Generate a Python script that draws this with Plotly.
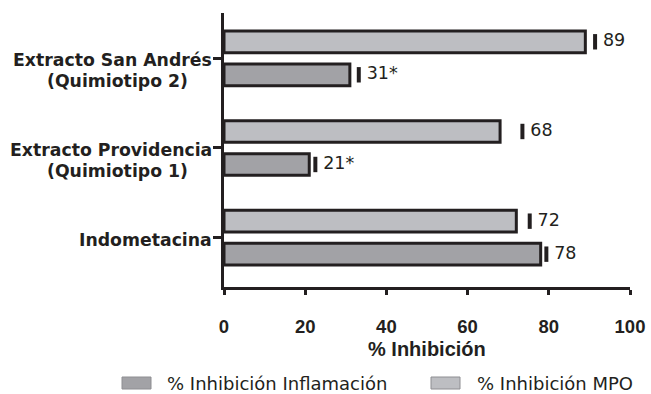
import numpy as np
import plotly.graph_objects as go

# ---- data (bottom to top) ----
category_lines = [
    ["Indometacina"],
    ["Extracto Providencia", "(Quimiotipo 1)"],
    ["Extracto San Andrés", "(Quimiotipo 2)"],
]
series_names = ["% Inhibición Inflamación", "% Inhibición MPO"]
inflamacion = [78, 21, 31]
inflamacion_err = [1.4, 1.5, 2.2]
inflamacion_labels = ["78", "21*", "31*"]
mpo = [72, 68, 89]
mpo_err = [3.3, 5.5, 2.4]
mpo_labels = ["72", "68", "89"]
x_ticks = [0, 20, 40, 60, 80, 100]
x_title = "% Inhibición"

# ---- style ----
INK = "#231f20"
C_INF = "#a2a2a6"
C_MPO = "#bdbec2"
SANS = "DejaVu Sans"
ARIAL = "Liberation Sans"
OFF = 0.184
BW = 0.242

idx = np.arange(len(category_lines))
fig = go.Figure()

for vals, errs, labels, color, sign, name in [
    (inflamacion, inflamacion_err, inflamacion_labels, C_INF, -1, series_names[0]),
    (mpo, mpo_err, mpo_labels, C_MPO, 1, series_names[1]),
]:
    ypos = idx + sign * OFF
    fig.add_trace(go.Bar(
        x=vals, y=ypos, orientation="h", width=BW, name=name,
        marker=dict(color=color, line=dict(color=INK, width=3)),
        showlegend=False,
    ))
    fig.add_trace(go.Scatter(
        x=np.array(vals) + np.array(errs), y=ypos, mode="markers+text",
        marker=dict(symbol="line-ns", size=11, line=dict(color=INK, width=4)),
        text=labels, textposition="middle right",
        textfont=dict(family=SANS, size=17.5, color=INK),
        showlegend=False, hoverinfo="skip",
    ))

annotations = []
# category labels
for i, lines in enumerate(category_lines):
    annotations.append(dict(
        text=lines[0], x=0, xref="paper", y=i, yref="y",
        xanchor="right", yanchor="middle", xshift=-10, yshift=-2,
        showarrow=False, font=dict(family=SANS, size=17.3, color=INK, weight="bold"),
    ))
    for k, ln in enumerate(lines[1:], start=1):
        annotations.append(dict(
            text=ln, x=0, xref="paper", y=i, yref="y",
            xanchor="center", yanchor="middle", xshift=-107, yshift=-2 - 21 * k,
            showarrow=False, font=dict(family=SANS, size=17.3, color=INK, weight="bold"),
        ))
# axis title
annotations.append(dict(
    text=x_title, x=0.5, xref="paper", y=0, yref="paper",
    xanchor="center", yanchor="middle", yshift=-62, showarrow=False,
    font=dict(family=ARIAL, size=20, color=INK, weight="bold"),
))
# legend
shapes = []
legend_items = [(series_names[0], C_INF, -102, -59), (series_names[1], C_MPO, 207, 251)]
for name, color, bx, tx in legend_items:
    shapes.append(dict(
        type="rect", xref="paper", yref="paper", xsizemode="pixel", ysizemode="pixel",
        xanchor=0, yanchor=0, x0=bx, x1=bx + 29, y0=-90, y1=-102,
        fillcolor=color, line=dict(color="#8e8e92", width=1),
    ))
    annotations.append(dict(
        text=name, x=0, xref="paper", y=0, yref="paper",
        xanchor="left", yanchor="middle", xshift=tx, yshift=-96, showarrow=False,
        font=dict(family=SANS, size=18, color=INK),
    ))

fig.update_layout(
    width=651, height=394, autosize=False,
    margin=dict(l=224, r=21, t=13, b=107, autoexpand=False),
    paper_bgcolor="white", plot_bgcolor="white",
    barmode="overlay",
    annotations=annotations, shapes=shapes,
    xaxis=dict(
        range=[0, 100], tickvals=x_ticks, ticks="outside", ticklen=5, tickwidth=3,
        tickcolor=INK, showline=True, linewidth=3, linecolor=INK, automargin=False,
        showgrid=False, zeroline=False, ticklabelstandoff=16,
        tickfont=dict(family=ARIAL, size=18.5, color=INK, weight="bold"),
    ),
    yaxis=dict(
        range=[-0.55, 2.505], tickvals=list(idx), showticklabels=False, automargin=False,
        ticks="outside", ticklen=8, tickwidth=3, tickcolor=INK,
        showline=True, linewidth=3, linecolor=INK, showgrid=False, zeroline=False,
    ),
)

fig.write_html(
    "out.html",
    config={"displayModeBar": False},
    post_script="document.body.style.margin='0';document.body.style.overflow='hidden';",
)
